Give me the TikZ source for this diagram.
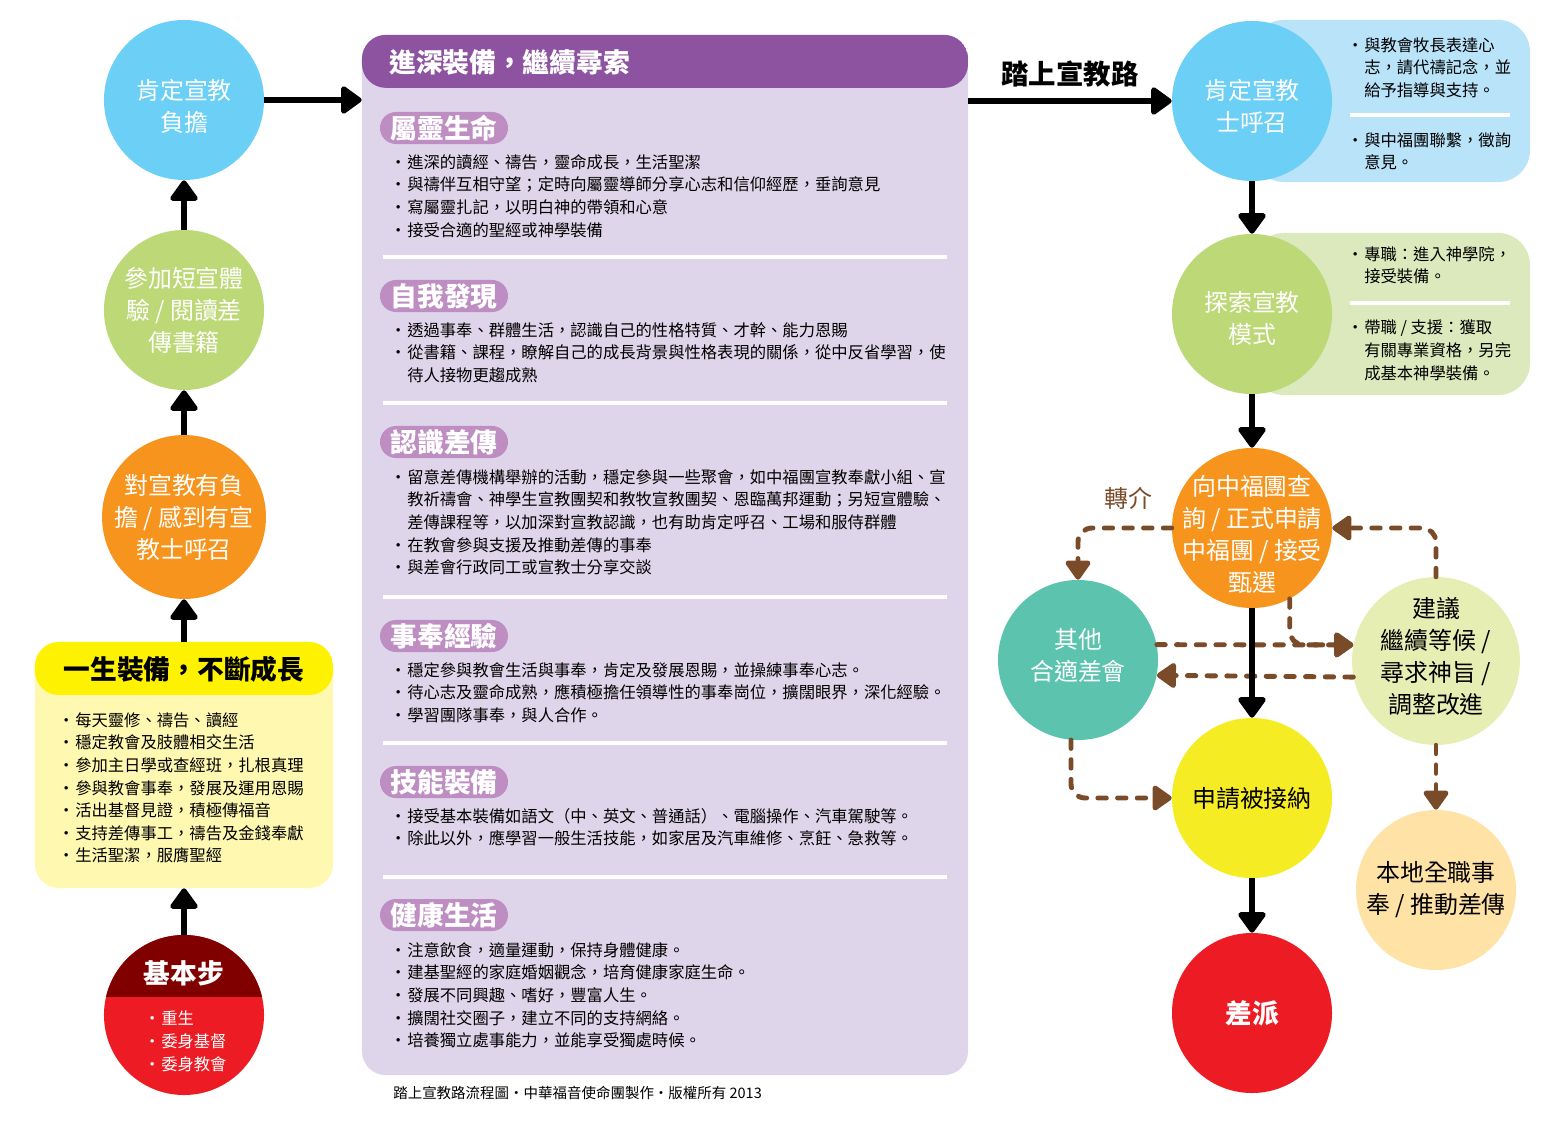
\documentclass[tikz,border=0pt]{standalone}
\usepackage{fontspec}
\setmainfont{Noto Sans CJK TC}
\usetikzlibrary{arrows.meta}

\definecolor{skyblue}{HTML}{6BCFF6}
\definecolor{skybox}{HTML}{B8E3F8}
\definecolor{leaf}{HTML}{BDD877}
\definecolor{leafbox}{HTML}{DCE9BC}
\definecolor{amber}{HTML}{F7941D}
\definecolor{lemon}{HTML}{FFF200}
\definecolor{lemonbody}{HTML}{FFF8B0}
\definecolor{maroon}{HTML}{800000}
\definecolor{scarlet}{HTML}{ED1C24}
\definecolor{grape}{HTML}{8D53A0}
\definecolor{lilac}{HTML}{DFD5EA}
\definecolor{orchid}{HTML}{BE8EC3}
\definecolor{seagreen}{HTML}{5BC3AE}
\definecolor{pale}{HTML}{E6EEB4}
\definecolor{sun}{HTML}{F6EC23}
\definecolor{peach}{HTML}{FFE2A6}
\definecolor{bark}{HTML}{7A4B29}

\newcommand{\bl}{\makebox[12.8pt][c]{•}}
\newcommand{\ct}{\hspace*{12.8pt}}
\newcommand{\drop}[1]{\rule{0pt}{#1}}
\newcommand{\lift}[1]{\rule[-#1]{0pt}{#1}}

\begin{document}
\begin{tikzpicture}[x=0.025cm, y=-0.025cm,
    disc/.style={circle, minimum size=4cm, inner sep=0pt, align=center, text=white, font=\fontsize{17}{22.7}\selectfont},
    head/.style={inner sep=0pt, font=\bfseries\fontsize{19}{19}\selectfont},
    note/.style={anchor=north west, inner sep=0pt, align=left, font=\fontsize{11.6}{16.1}\selectfont},
    pill/.style={fill=orchid, rounded corners=0.4cm, minimum width=3.2cm, minimum height=0.8cm, inner sep=0pt, text=white, font=\bfseries\fontsize{19}{19}\selectfont},
    plate/.style={rounded corners=0.8cm, minimum width=6.95cm, minimum height=4.05cm},
    sepline/.style={white, line width=3pt},
    flow/.style={-{Triangle[width=22pt,length=16pt,round]}, line width=3.6pt},
    dashflow/.style={-{Triangle[width=20pt,length=15pt,round]}, bark, line width=3.5pt, line cap=round, dash pattern=on 6pt off 8pt}
]
\useasboundingbox (0,0) rectangle (1565,1122);

% left column
\node[disc, fill=skyblue] (affirm) at (184,100) {\drop{23.5pt}肯定宣教\\負擔};
\node[disc, fill=leaf] (trip) at (184,310) {參加短宣體\\驗 / 閱讀差\\傳書籍};
\node[disc, fill=amber] (burden) at (184,517) {對宣教有負\\擔 / 感到有宣\\教士呼召};
\node[rounded corners=0.6cm, fill=lemonbody, minimum width=7.45cm, minimum height=6.15cm,
      path picture={\fill[lemon] (path picture bounding box.north west) rectangle ([yshift=-1.325cm]path picture bounding box.north east);}] (life) at (184,765) {};
\node[head] (lifehead) at (184,669) {一生裝備，不斷成長};
\node[note] (lifelist) at (57,712) {\bl 每天靈修、禱告、讀經\\\bl 穩定教會及肢體相交生活\\\bl 參加主日學或查經班，扎根真理\\\bl 參與教會事奉，發展及運用恩賜\\\bl 活出基督見證，積極傳福音\\\bl 支持差傳事工，禱告及金錢奉獻\\\bl 生活聖潔，服膺聖經};
\node[disc, fill=scarlet,
      path picture={\fill[maroon] (path picture bounding box.north west) rectangle ([yshift=-1.55cm]path picture bounding box.north east);}] (basic) at (184,1015) {};
\node[head, text=white] (basichead) at (184,973) {基本步};
\node[note, text=white] (basiclist) at (143,1011) {\bl 重生\\\bl 委身基督\\\bl 委身教會};

\draw[flow] (basic) -- (life);
\draw[flow] (life) -- (burden);
\draw[flow] (burden) -- (trip);
\draw[flow] (trip) -- (affirm);

% middle panel
\node[rounded corners=0.6cm, fill=lilac, minimum width=15.15cm, minimum height=26cm,
      path picture={\fill[grape] (path picture bounding box.north west) rectangle ([yshift=-1.325cm]path picture bounding box.north east);}] (deep) at (665,555) {};
\node[head, text=white, anchor=west] (deephead) at (389,62) {進深裝備，繼續尋索};
\draw[flow] (affirm) -- (affirm -| deep.west);

\node[pill] (spirit) at (444,128) {屬靈生命};
\node[note] (spiritlist) at (389,154) {\bl 進深的讀經、禱告，靈命成長，生活聖潔\\\bl 與禱伴互相守望；定時向屬靈導師分享心志和信仰經歷，垂詢意見\\\bl 寫屬靈扎記，以明白神的帶領和心意\\\bl 接受合適的聖經或神學裝備};
\draw[sepline] (383,257) -- (947,257);
\node[pill] (self) at (444,296) {自我發現};
\node[note] (selflist) at (389,322) {\bl 透過事奉、群體生活，認識自己的性格特質、才幹、能力恩賜\\\bl 從書籍、課程，瞭解自己的成長背景與性格表現的關係，從中反省學習，使\\\ct 待人接物更趨成熟};
\draw[sepline] (383,403) -- (947,403);
\node[pill] (mission) at (444,442) {認識差傳};
\node[note] (missionlist) at (389,469) {\bl 留意差傳機構舉辦的活動，穩定參與一些聚會，如中福團宣教奉獻小組、宣\\\ct 教祈禱會、神學生宣教團契和教牧宣教團契、恩臨萬邦運動；另短宣體驗、\\\ct 差傳課程等，以加深對宣教認識，也有助肯定呼召、工場和服侍群體\\\bl 在教會參與支援及推動差傳的事奉\\\bl 與差會行政同工或宣教士分享交談};
\draw[sepline] (383,597) -- (947,597);
\node[pill] (serve) at (444,636) {事奉經驗};
\node[note] (servelist) at (389,662) {\bl 穩定參與教會生活與事奉，肯定及發展恩賜，並操練事奉心志。\\\bl 待心志及靈命成熟，應積極擔任領導性的事奉崗位，擴闊眼界，深化經驗。\\\bl 學習團隊事奉，與人合作。};
\draw[sepline] (383,743) -- (947,743);
\node[pill] (skill) at (444,782) {技能裝備};
\node[note] (skilllist) at (389,808) {\bl 接受基本裝備如語文（中、英文、普通話）、電腦操作、汽車駕駛等。\\\bl 除此以外，應學習一般生活技能，如家居及汽車維修、烹飪、急救等。};
\draw[sepline] (383,877) -- (947,877);
\node[pill] (health) at (444,915) {健康生活};
\node[note] (healthlist) at (389,942) {\bl 注意飲食，適量運動，保持身體健康。\\\bl 建基聖經的家庭婚姻觀念，培育健康家庭生命。\\\bl 發展不同興趣、嗜好，豐富人生。\\\bl 擴闊社交圈子，建立不同的支持網絡。\\\bl 培養獨立處事能力，並能享受獨處時候。};
\node[inner sep=0pt, anchor=west, font=\fontsize{10.3}{12}\selectfont] (footer) at (393,1093) {踏上宣教路流程圖・中華福音使命團製作・版權所有 2013};

% right column
\node[plate, fill=skybox] (callnote) at (1391,101) {};
\node[plate, fill=leafbox] (modenote) at (1391,314) {};
\draw[sepline] (1350,115) -- (1510,115);
\draw[sepline] (1350,303) -- (1510,303);
\node[note] (calllist) at (1346,37) {\bl 與教會牧長表達心\\\ct 志，請代禱記念，並\\\ct 給予指導與支持。};
\node[note] (calllist2) at (1346,132) {\bl 與中福團聯繫，徵詢\\\ct 意見。};
\node[note] (modelist) at (1346,246) {\bl 專職：進入神學院，\\\ct 接受裝備。};
\node[note] (modelist2) at (1346,320) {\bl 帶職 / 支援：獲取\\\ct 有關專業資格，另完\\\ct 成基本神學裝備。};

\node[disc, fill=skyblue] (callR) at (1252,101) {\drop{22pt}肯定宣教\\士呼召};
\node[disc, fill=leaf] (explore) at (1252,314) {\drop{20.6pt}探索宣教\\模式};
\node[disc, fill=amber, inner sep=-12pt] (ask) at (1252,528) {\drop{23.5pt}向中福團查\\詢 / 正式申請\\中福團 / 接受\\甄選};
\node[disc, fill=seagreen] (other) at (1078,660) {其他\\合適差會\lift{7.6pt}};
\node[disc, fill=pale, text=black] (advise) at (1436,661) {建議\\繼續等候 /\\尋求神旨 /\\調整改進\lift{7.6pt}};
\node[disc, fill=sun, text=black] (accepted) at (1252,798) {申請被接納};
\node[disc, fill=peach, text=black] (local) at (1436,890) {本地全職事\\奉 / 推動差傳};
\node[disc, fill=scarlet, font=\bfseries\fontsize{19}{19}\selectfont] (send) at (1252,1013) {差派};

\draw[flow] (deep.east |- callR) -- (callR) node[midway, above=8pt, head, font=\bfseries\fontsize{19.5}{19.5}\selectfont] (roadlabel) {踏上宣教路};

\node[text=bark, inner sep=0pt, font=\fontsize{17}{17}\selectfont] (refer) at (1128,498) {轉介};
\draw[dashflow, rounded corners=10pt] (ask.west) -| (other.north);
\draw[dashflow, rounded corners=10pt] (advise.north) |- (ask.east);
\draw[dashflow, rounded corners=10pt] (ask.-62) |- (advise.169);
\draw[dashflow] (other.11) -- (advise.169);
\draw[dashflow] (advise.191) -- (other.-11);
\draw[dashflow, rounded corners=10pt] (other.265) |- (accepted.west);
\draw[dashflow] (advise) -- (local);

\draw[flow] (callR) -- (explore);
\draw[flow] (explore) -- (ask);
\draw[flow] (ask) -- (accepted);
\draw[flow] (accepted) -- (send);
\end{tikzpicture}
\end{document}
